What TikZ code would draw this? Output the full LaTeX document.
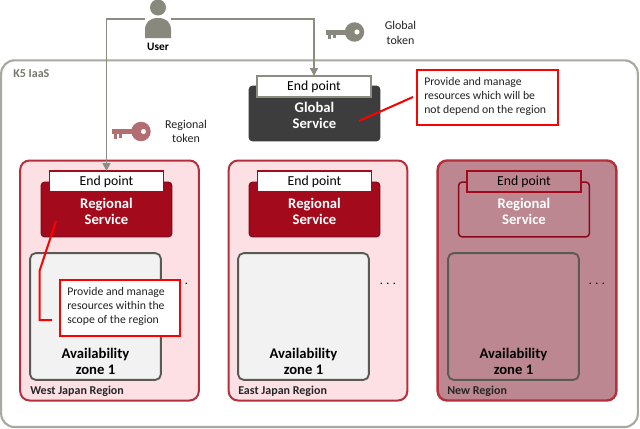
\documentclass[tikz,border=0pt]{standalone}
\usepackage{fontspec}
\setmainfont{Carlito}
\usetikzlibrary{arrows.meta}
\definecolor{grayline}{HTML}{A9A99F}
\definecolor{conn}{HTML}{8C8C80}
\definecolor{iconc}{HTML}{88887C}
\definecolor{keyred}{HTML}{B26E70}
\definecolor{regline}{HTML}{B5303C}
\definecolor{regfill}{HTML}{FDE0E4}
\definecolor{newfill}{HTML}{BC8791}
\definecolor{svc}{HTML}{A30A1C}
\definecolor{svcdark}{HTML}{3D3D3D}
\definecolor{zoneline}{HTML}{5A5A55}
\definecolor{zonefill}{HTML}{F2F2F2}
\definecolor{callred}{HTML}{FF0000}
\definecolor{txt}{HTML}{222222}
\newcommand{\eptext}{\raisebox{-1.2pt}{End point}}
\tikzset{
  x=0.75pt,y=-0.75pt,
  box/.style={rectangle,rounded corners=#1,inner sep=0pt,outer sep=0pt},
  outerbox/.style={box=10pt,draw=grayline,line width=1.6pt,fill=white,minimum width=477.5pt,minimum height=275pt},
  regionbox/.style={box=7pt,draw=regline,line width=1.5pt,fill=regfill,minimum width=134pt,minimum height=180pt},
  newregion/.style={regionbox,fill=newfill,line width=1.8pt},
  servicebox/.style={box=2.5pt,fill=svc,draw=svc!80!black,line width=.8pt,minimum width=98pt,minimum height=41pt},
  globalbox/.style={servicebox,fill=svcdark,draw=svcdark},
  newservice/.style={servicebox,fill=none,draw=svc!85!black,line width=1.1pt},
  endbox/.style={rectangle,inner sep=0pt,outer sep=0pt,fill=white,draw=svc,line width=1.2pt,minimum width=85.5pt,minimum height=15.75pt,font=\fontsize{10.3}{12}\selectfont,text=black},
  globalend/.style={endbox,draw=conn},
  newend/.style={endbox,fill=newfill},
  zonebox/.style={box=4pt,draw=zoneline,line width=1.4pt,fill=zonefill,minimum width=98pt,minimum height=95pt},
  newzone/.style={zonebox,fill=none},
  callout/.style={rectangle,inner sep=0pt,outer sep=0pt,draw=callred,fill=white,line width=1.5pt},
  calltext/.style={anchor=west,inner sep=0pt,text=txt,align=left,font=\fontsize{8.8}{10.4}\selectfont},
  svctext/.style={text=white,align=center,font=\fontsize{11}{11.8}\selectfont\bfseries},
  zonetext/.style={text=black,align=center,font=\fontsize{11}{11.6}\selectfont\bfseries},
  regtext/.style={text=black!85,font=\fontsize{9}{10}\selectfont\bfseries,anchor=west,inner sep=0pt},
  plain/.style={text=txt,align=center,font=\fontsize{9}{10.8}\selectfont},
  dotsnode/.style={text=black,inner sep=0pt,font=\fontsize{11}{12}\selectfont},
  connector/.style={draw=conn,line width=1.1pt,-{Triangle[length=6pt,width=6pt,fill=conn]}},
  redline/.style={draw=callred,line width=1.5pt},
}
\newcommand{\keyicon}[3]{% x y colour (ring centre)
  \fill[#3] (#1,#2) circle (7.3pt);
  \fill[#3] (#1-29,#2-2.5) rectangle (#1,#2+2.5);
  \fill[#3] (#1-27,#2) rectangle (#1-24,#2+7);
  \fill[#3] (#1-22,#2) rectangle (#1-19,#2+6);
  \fill[white] (#1+2.5,#2) circle (1.9pt);
}
\begin{document}
\begin{tikzpicture}
\useasboundingbox (0,0) rectangle (640,429);
% outer
\node[outerbox] (k5) at (319.5,243.7) {};
\node[anchor=west,inner sep=0pt,text=conn!85!black,font=\fontsize{9}{10}\selectfont\bfseries] (k5label) at (13,74) {K5 IaaS};
% user icon
\fill[iconc] (158,7.5) circle (6pt);
\fill[iconc] (145,38) -- (145,30) .. controls (145,22) and (150,18) .. (158,18) .. controls (166,18) and (171,22) .. (171,30) -- (171,38) -- cycle;
\node[inner sep=0pt,outer sep=0pt,minimum width=19.5pt,minimum height=2pt] (user) at (158,19) {};
\node[text=black,font=\fontsize{8.5}{9}\selectfont\bfseries,inner sep=0pt] (userlabel) at (158,47) {User};
% keys
\keyicon{354.5}{32}{iconc}
\keyicon{141}{131.5}{keyred}
\node[plain] (gtoken) at (400.5,33) {Global\\token};
\node[plain] (rtoken) at (186,131.5) {Regional\\token};
% global service
\node[globalbox] (gs) at (314.5,113.5) {};
\node[globalend] (gep) at (314,86.5) {\eptext};
\node[svctext] (gstext) at (314.5,115.5) {Global\\Service};
% regions
\node[regionbox] (west) at (109.5,280.5) {};
\node[regionbox] (east) at (318,280.5) {};
\node[newregion] (new) at (527,280.5) {};
\node[regtext] (westl) at (30,391.5) {West Japan Region};
\node[regtext] (eastl) at (238,391.5) {East Japan Region};
\node[regtext] (newl) at (447,391) {New Region};
% services
\node[servicebox] (ws) at (106.5,209.5) {};
\node[endbox] (wep) at (106.5,181.5) {\eptext};
\node[svctext] (wst) at (106.5,211.5) {Regional\\Service};
\node[servicebox] (es) at (314.5,209.5) {};
\node[endbox] (eep) at (314.5,181.5) {\eptext};
\node[svctext] (est) at (314.5,211.5) {Regional\\Service};
\node[newservice] (ns) at (524,209.5) {};
\node[newend] (nep) at (524,181.5) {\eptext};
\node[svctext] (nst) at (524,211.5) {Regional\\Service};
% zones
\node[zonebox] (wz) at (95.5,316.5) {};
\node[zonebox] (ez) at (303.5,316.5) {};
\node[newzone] (nz) at (513.5,316.5) {};
\node[zonetext] (wzt) at (95.5,361.5) {Availability\\zone 1};
\node[zonetext] (ezt) at (303.5,361.5) {Availability\\zone 1};
\node[zonetext] (nzt) at (513.5,361.5) {Availability\\zone 1};
% dots
\node[dotsnode] (wd) at (180,284) {$\cdots$};
\node[dotsnode] (ed) at (388,284) {$\cdots$};
\node[dotsnode] (nd) at (597,284) {$\cdots$};
% callouts
\node[callout,minimum width=90pt,minimum height=42pt] (wc) at (120,308) {};
\node[calltext] (wct) at (67,306.5) {Provide and manage\\resources within the\\scope of the region};
\node[callout,minimum width=105.5pt,minimum height=41pt] (gc) at (487.5,97.5) {};
\node[calltext] (gct) at (424,96.5) {Provide and manage\\resources which will be\\not depend on the region};
% anchors of red lines
\coordinate (gtail) at (359,121);
\coordinate (ghead) at (413,97);
\coordinate (wtail) at (56,221);
\coordinate (wbend1) at (39.5,271);
\coordinate (wbend2) at (39.5,320);
\coordinate (wend) at (52,320);
% connectors
\draw[connector] (user.west) -| (wep.north);
\draw[connector] (user.east) -| (gep.north);
% red lines
\draw[redline] (gtail) -- (ghead);
\draw[redline] (wtail) -- (wbend1) -- (wbend2) -- (wend);
\end{tikzpicture}
\end{document}
